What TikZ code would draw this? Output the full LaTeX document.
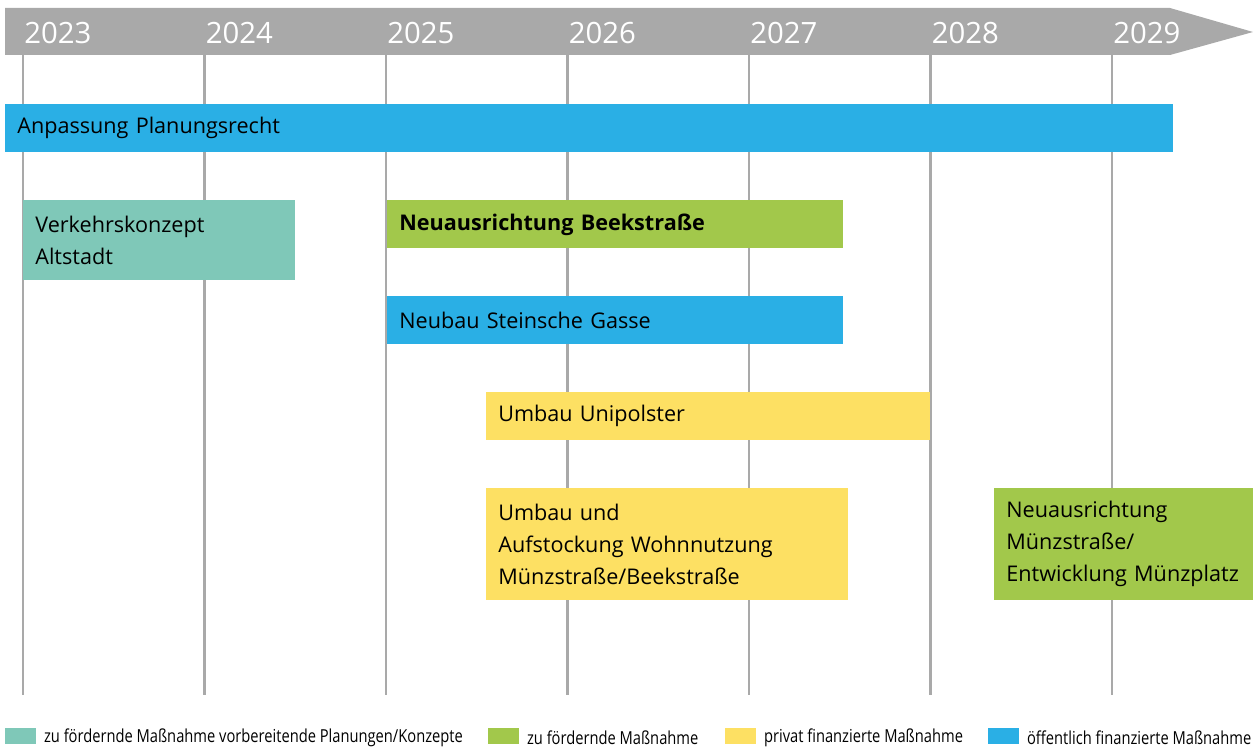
\documentclass[tikz,border=0pt]{standalone}
\usepackage{fontspec}
\setmainfont{Open Sans}
\newfontfamily\legendfont[FakeStretch=0.82]{Open Sans}
\usepackage{tikz}
\usetikzlibrary{positioning}
\definecolor{catBlau}{HTML}{2AAFE5}
\definecolor{catGelb}{HTML}{FDE063}
\definecolor{catGruen}{HTML}{A2C84B}
\definecolor{catTuerkis}{HTML}{7FC8B8}
\definecolor{catGrau}{HTML}{A9A9A9}
\colorlet{colOeffentlich}{catBlau}
\colorlet{colPrivat}{catGelb}
\colorlet{colFoerder}{catGruen}
\colorlet{colKonzept}{catTuerkis}
\colorlet{colZeit}{catGrau}

\begin{document}
\begin{tikzpicture}[
        x=0.02cm, y=-0.02cm,
        bar/.style={anchor=north west, inner xsep=0.24cm, inner ysep=0pt, minimum height=0.96cm, align=left, font=\fontsize{12.3}{18.2}\selectfont},
        barbold/.style={bar, font=\fontsize{12.3}{18.2}\selectfont\bfseries},
        jahr/.style={anchor=base west, text=white, inner sep=0pt, font=\fontsize{16.7}{18}\selectfont},
        raster/.style={draw=colZeit, line width=1.2pt},
        legbox/.style={anchor=north west, minimum width=0.62cm, minimum height=0.32cm, inner sep=0pt},
        legtxt/.style={font=\legendfont\fontsize{10.2}{12}\selectfont, inner sep=0pt, right=0.14cm of #1, yshift=-0.03cm}
    ]
        \useasboundingbox (0,0) rectangle (1258,749);

        % --- ZEITACHSE ---
        \fill[colZeit] (5,8) -- (1170,8) -- (1253,32) -- (1170,55) -- (5,55) -- cycle;
        \foreach \yr [count=\i from 0] in {2023,...,2029} {
            \draw[raster] (23+181.5*\i,55) -- (23+181.5*\i,695);
            \node[jahr] (j\yr) at (24+181.5*\i,44) {\yr};
        }

        % --- MASSNAHMEN ---
        \node[bar, fill=colOeffentlich, text width=22.88cm] (planung) at (5,104) {Anpassung Planungsrecht};
        \node[bar, fill=colKonzept, text width=4.96cm, minimum height=1.6cm] (verkehr) at (23,200) {Verkehrskonzept\\Altstadt};
        \node[barbold, fill=colFoerder, text width=8.64cm] (beek) at (387,200) {Neuausrichtung Beekstraße};
        \node[bar, fill=colOeffentlich, text width=8.64cm] (stein) at (387,296) {Neubau Steinsche Gasse};
        \node[bar, fill=colPrivat, text width=8.40cm] (unipolster) at (486,392) {Umbau Unipolster};
        \node[bar, fill=colPrivat, text width=6.76cm, minimum height=2.24cm] (wohnen) at (486,488) {Umbau und\\Aufstockung Wohnnutzung\\Münzstraße/Beekstraße};
        \node[bar, fill=colFoerder, text width=4.70cm, minimum height=2.24cm] (muenz) at (994,488) {Neuausrichtung\\Münzstraße/\\Entwicklung Münzplatz};

        % --- LEGENDE ---
        \node[legbox, fill=colKonzept] (leg1) at (5,728) {};
        \node[legtxt=leg1] (legt1) {zu fördernde Maßnahme vorbereitende Planungen/Konzepte};
        \node[legbox, fill=colFoerder] (leg2) at (488,728) {};
        \node[legtxt=leg2] (legt2) {zu fördernde Maßnahme};
        \node[legbox, fill=colPrivat] (leg3) at (725,728) {};
        \node[legtxt=leg3] (legt3) {privat finanzierte Maßnahme};
        \node[legbox, fill=colOeffentlich] (leg4) at (988,728) {};
        \node[legtxt=leg4] (legt4) {öffentlich finanzierte Maßnahme};
    \end{tikzpicture}
\end{document}
